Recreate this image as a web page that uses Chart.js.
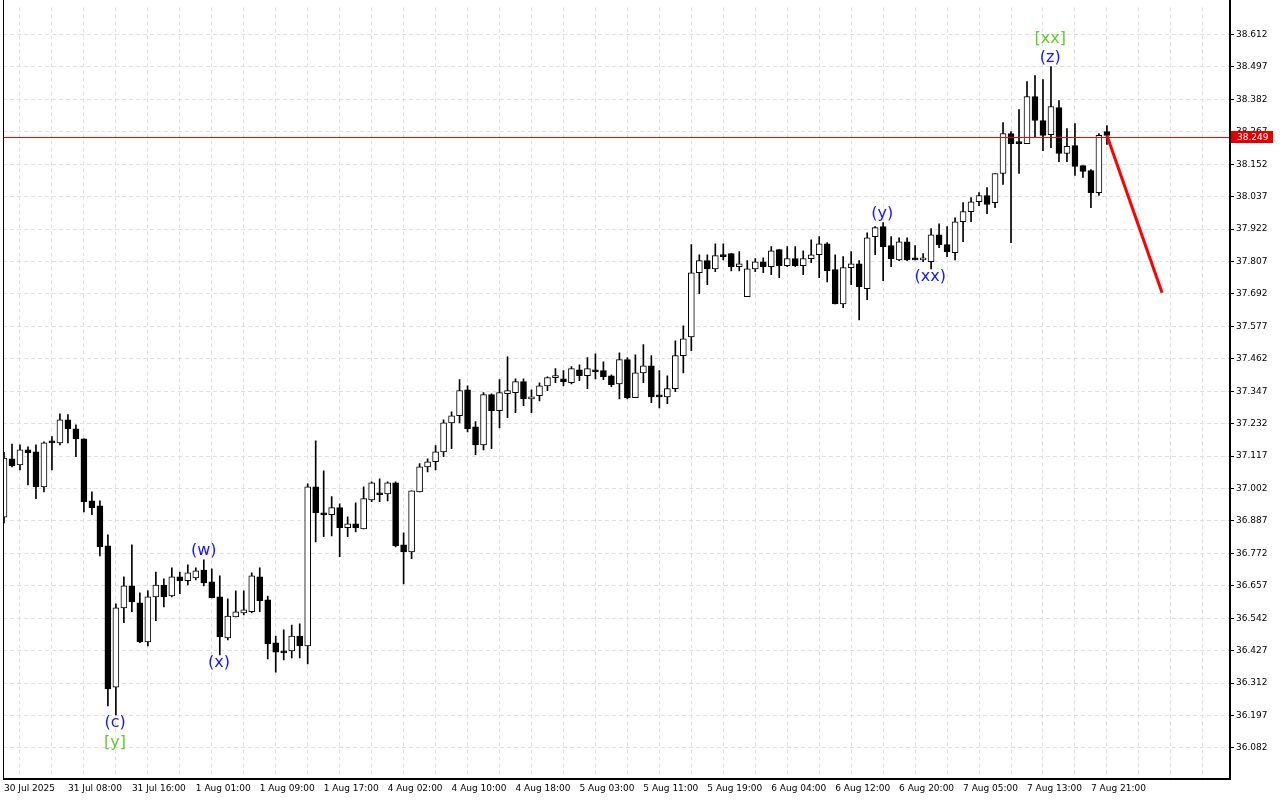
<!DOCTYPE html>
<html>
<head>
<meta charset="utf-8">
<script src="https://cdn.jsdelivr.net/npm/chart.js@4.4.0/dist/chart.umd.min.js"></script>
<style>
  html, body { margin: 0; padding: 0; background: #fff; }
  #wrap { width: 1280px; height: 800px; }
</style>
</head>
<body>
<div id="wrap"><canvas id="chart"></canvas></div>
<script>
// hourly candles, index 0 = 30 Jul 2025
const opens = [36.90,37.107,37.086,37.139,37.132,37.008,37.168,37.164,37.246,37.214,37.178,36.958,36.941,36.799,36.298,36.579,36.657,36.597,36.458,36.618,36.660,36.621,36.689,36.675,36.685,36.713,36.671,36.618,36.472,36.547,36.561,36.565,36.689,36.607,36.455,36.426,36.426,36.479,36.444,37.008,36.916,36.909,36.934,36.863,36.877,36.859,36.962,36.987,36.983,37.022,36.802,36.777,36.990,37.079,37.097,37.132,37.235,37.260,37.352,37.221,37.157,37.335,37.278,37.338,37.342,37.381,37.320,37.331,37.366,37.395,37.391,37.377,37.423,37.402,37.423,37.420,37.402,37.373,37.459,37.324,37.412,37.437,37.331,37.327,37.356,37.473,37.540,37.767,37.810,37.781,37.831,37.835,37.789,37.682,37.781,37.806,37.789,37.849,37.792,37.817,37.792,37.817,37.831,37.870,37.778,37.657,37.785,37.799,37.711,37.895,37.931,37.863,37.813,37.877,37.817,37.813,37.806,37.902,37.867,37.838,37.948,37.984,38.019,38.041,38.016,38.119,38.261,38.229,38.225,38.392,38.307,38.257,38.353,38.190,38.218,38.147,38.129,38.051,38.268];
const highs = [37.13,37.160,37.157,37.150,37.157,37.168,37.186,37.267,37.264,37.228,37.178,36.990,36.958,36.838,36.593,36.689,36.802,36.632,36.639,36.706,36.682,36.721,36.706,36.731,36.721,36.749,36.717,36.692,36.611,36.639,36.639,36.703,36.721,36.621,36.479,36.501,36.518,36.522,37.019,37.171,37.065,36.973,36.948,36.902,36.951,37.008,37.026,37.036,37.026,37.026,36.845,36.994,37.090,37.107,37.154,37.246,37.274,37.388,37.366,37.239,37.342,37.338,37.388,37.469,37.391,37.391,37.352,37.377,37.398,37.427,37.420,37.434,37.441,37.466,37.480,37.451,37.405,37.483,37.466,37.476,37.512,37.473,37.420,37.402,37.526,37.579,37.867,37.831,37.831,37.870,37.870,37.835,37.842,37.810,37.817,37.820,37.860,37.849,37.860,37.860,37.845,37.884,37.895,37.874,37.831,37.824,37.842,37.810,37.909,37.931,37.945,37.895,37.891,37.891,37.863,37.835,37.924,37.941,37.931,37.962,38.016,38.034,38.051,38.069,38.119,38.300,38.268,38.346,38.445,38.466,38.452,38.498,38.378,38.278,38.296,38.147,38.133,38.261,38.289];
const lows = [36.88,37.079,37.068,37.015,36.966,36.990,37.068,37.157,37.164,37.115,36.919,36.909,36.763,36.231,36.199,36.526,36.565,36.455,36.444,36.533,36.582,36.618,36.629,36.660,36.678,36.657,36.614,36.412,36.465,36.547,36.554,36.561,36.565,36.398,36.351,36.394,36.401,36.401,36.380,36.813,36.831,36.834,36.760,36.831,36.848,36.859,36.955,36.955,36.958,36.795,36.664,36.753,36.990,37.061,37.068,37.115,37.143,37.235,37.203,37.122,37.139,37.143,37.217,37.253,37.271,37.296,37.271,37.313,37.349,37.377,37.366,37.373,37.384,37.356,37.391,37.388,37.363,37.320,37.320,37.324,37.377,37.306,37.288,37.303,37.345,37.412,37.491,37.693,37.725,37.771,37.813,37.774,37.774,37.682,37.771,37.767,37.760,37.750,37.789,37.789,37.760,37.803,37.750,37.735,37.657,37.643,37.725,37.600,37.672,37.831,37.739,37.789,37.810,37.810,37.813,37.806,37.781,37.856,37.824,37.813,37.877,37.948,38.005,37.977,37.998,38.080,37.874,38.119,38.225,38.250,38.200,38.211,38.161,38.161,38.112,38.105,37.998,38.041,38.222];
const closes = [37.11,37.082,37.139,37.129,37.008,37.164,37.164,37.246,37.214,37.178,36.955,36.934,36.795,36.291,36.579,36.657,36.600,36.458,36.618,36.660,36.618,36.689,36.675,36.703,36.710,36.667,36.614,36.476,36.550,36.565,36.572,36.692,36.604,36.451,36.422,36.419,36.479,36.444,37.008,36.916,36.909,36.934,36.863,36.877,36.863,36.966,37.022,36.980,37.022,36.799,36.777,36.994,37.079,37.097,37.132,37.235,37.260,37.349,37.214,37.157,37.335,37.278,37.342,37.349,37.381,37.320,37.327,37.366,37.395,37.402,37.381,37.427,37.402,37.427,37.416,37.398,37.370,37.459,37.324,37.412,37.437,37.327,37.327,37.356,37.473,37.533,37.767,37.810,37.781,37.828,37.824,37.789,37.799,37.781,37.806,37.789,37.845,37.792,37.817,37.792,37.817,37.831,37.870,37.774,37.657,37.785,37.799,37.718,37.891,37.927,37.860,37.817,37.877,37.813,37.813,37.817,37.902,37.867,37.842,37.948,37.984,38.019,38.041,38.009,38.119,38.261,38.225,38.225,38.392,38.307,38.254,38.356,38.190,38.215,38.144,38.126,38.051,38.254,38.254];

const timeLabels = ['30 Jul 2025','31 Jul 08:00','31 Jul 16:00','1 Aug 01:00','1 Aug 09:00','1 Aug 17:00','4 Aug 02:00','4 Aug 10:00','4 Aug 18:00','5 Aug 03:00','5 Aug 11:00','5 Aug 19:00','6 Aug 04:00','6 Aug 12:00','6 Aug 20:00','7 Aug 05:00','7 Aug 13:00','7 Aug 21:00'];
const priceTicks = [36.082,36.197,36.312,36.427,36.542,36.657,36.772,36.887,37.002,37.117,37.232,37.347,37.462,37.577,37.692,37.807,37.922,38.037,38.152,38.267,38.382,38.497,38.612];
const currentPrice = 38.249;

// forecast arrow: from last candle down
const forecastX = [138, 144.9];
const forecastY = [38.254, 37.696];

// wave labels
const waveText  = ['(c)','[y]','(w)','(x)','(y)','(xx)','(z)','[xx]'];
const waveX     = [13.9, 13.9, 25, 26.9, 109.9, 115.9, 130.9, 130.9];
const waveY     = [36.170, 36.099, 36.781, 36.383, 37.977, 37.753, 38.530, 38.598];
const waveColor = ['#1414ff','#5fcc2a','#1414ff','#1414ff','#1414ff','#1414ff','#1414ff','#5fcc2a'];

const wickData = opens.map((o, i) => ({ x: i, y: [lows[i], highs[i]] }));
const bodyData = opens.map((o, i) => ({ x: i, y: [Math.min(o, closes[i]), Math.max(o, closes[i])] }));
const bodyFill = opens.map((o, i) => closes[i] >= o ? '#ffffff' : '#000000');

const overlay = {
  id: 'overlay',
  afterDatasetsDraw(chart) {
    const ctx = chart.ctx, area = chart.chartArea;
    const xs = chart.scales.x, ys = chart.scales.y;
    ctx.save();
    // current price line
    const py = Math.round(ys.getPixelForValue(currentPrice));
    ctx.fillStyle = '#ff0000';
    ctx.fillRect(area.left, py, area.right - area.left, 1);
    // wave labels
    ctx.font = '16px "DejaVu Sans", sans-serif';
    ctx.textAlign = 'center';
    ctx.textBaseline = 'middle';
    waveText.forEach((t, i) => {
      ctx.fillStyle = waveColor[i];
      ctx.fillText(t, xs.getPixelForValue(waveX[i]), ys.getPixelForValue(waveY[i]));
    });
    // frame
    ctx.fillStyle = '#000';
    ctx.fillRect(area.left, 0, 1, area.bottom);
    ctx.fillRect(area.left, area.bottom - 1, area.right - area.left, 2);
    ctx.fillRect(area.right - 1, 0, 2, area.bottom + 1);
    // price box
    ctx.fillStyle = '#e00000';
    ctx.fillRect(area.right + 1, py - 6, 42, 12);
    ctx.fillStyle = '#fff';
    ctx.font = '9px "DejaVu Sans", sans-serif';
    ctx.textAlign = 'left';
    ctx.fillText(currentPrice.toFixed(3), area.right + 7, py + 1);
    ctx.restore();
  }
};

new Chart(document.getElementById('chart'), {
  type: 'bar',
  data: {
    datasets: [
      { type: 'line', data: forecastX.map((x, i) => ({ x: x, y: forecastY[i] })), borderColor: '#ff0000', borderWidth: 3, pointRadius: 0, order: 0 },
      { data: bodyData, backgroundColor: bodyFill, borderColor: '#000', borderWidth: 1, borderSkipped: false, barThickness: 6, minBarLength: 2, grouped: false, order: 1 },
      { data: wickData, backgroundColor: '#000', borderWidth: 0, barThickness: 1, grouped: false, order: 2 }
    ]
  },
  options: {
    responsive: true,
    maintainAspectRatio: false,
    animation: false,
    layout: { padding: { left: 2, top: 0, right: 0, bottom: 0 } },
    plugins: { legend: { display: false }, tooltip: { enabled: false } },
    scales: {
      x: {
        type: 'linear', min: -0.125, max: 153.4, offset: false,
        afterBuildTicks(s) { const t = []; for (let k = 0; k <= 152; k += 4) t.push({ value: k }); s.ticks = t; },
        afterFit(s) { s.height = 21; },
        grid: { color: '#e0e0e0', drawTicks: false },
        border: { display: false, dash: [4, 3] },
        ticks: {
          autoSkip: false, maxRotation: 0, align: 'start', padding: 4,
          color: '#000', font: { family: 'DejaVu Sans', size: 9 },
          callback: v => (v % 8 === 0 && timeLabels[v / 8]) ? timeLabels[v / 8] : ''
        }
      },
      y: {
        position: 'right', min: 35.972, max: 38.708,
        afterBuildTicks(s) { s.ticks = priceTicks.map(v => ({ value: v })); },
        afterFit(s) { s.width = 50; },
        grid: { color: '#e0e0e0', tickColor: '#000', tickLength: 4 },
        border: { display: false, dash: [4, 3] },
        ticks: { color: '#000', padding: 2, font: { family: 'DejaVu Sans', size: 9 }, callback: v => v.toFixed(3) }
      }
    }
  },
  plugins: [overlay]
});
</script>
</body>
</html>
